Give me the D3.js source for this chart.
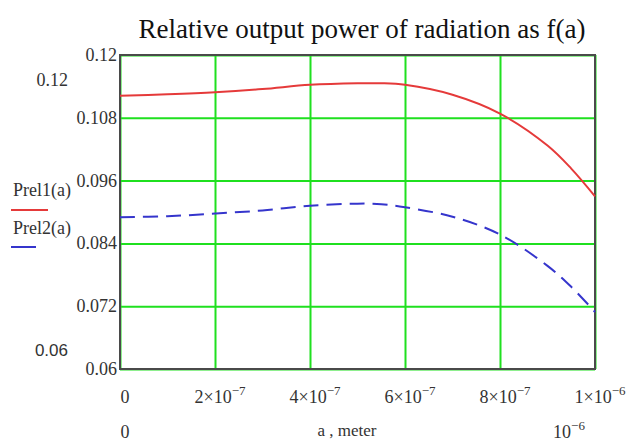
<!DOCTYPE html>
<html>
<head>
<meta charset="utf-8">
<script src="https://cdn.jsdelivr.net/npm/d3@7/dist/d3.min.js"></script>
<style>
  body { margin: 0; background: #fff; }
  svg { display: block; }
  text { font-family: "Liberation Serif", "Times New Roman", serif; fill: #333; }
</style>
</head>
<body>
<script>
// values (a in meters)
var aVals = [0, 1e-7, 2e-7, 3e-7, 4e-7, 5e-7, 5.5e-7, 6e-7, 7e-7, 8e-7, 9e-7, 9.5e-7, 1e-6];
var prel1 = [0.1122, 0.1125, 0.1129, 0.1135, 0.1143, 0.1146, 0.1146, 0.1143, 0.1124, 0.1088, 0.1027, 0.0983, 0.0930];
var prel2 = [0.0890, 0.0892, 0.0897, 0.0903, 0.0912, 0.0916, 0.0915, 0.0909, 0.0891, 0.0857, 0.0797, 0.0757, 0.0709];
var xTicks = [0, 2e-7, 4e-7, 6e-7, 8e-7, 1e-6];
var xTickLabels = [["0", ""], ["2\u00d710", "\u22127"], ["4\u00d710", "\u22127"], ["6\u00d710", "\u22127"], ["8\u00d710", "\u22127"], ["1\u00d710", "\u22126"]];
var yTicks = [0.06, 0.072, 0.084, 0.096, 0.108, 0.12];
var yTickLabels = ["0.06", "0.072", "0.084", "0.096", "0.108", "0.12"];
var seriesNames = ["Prel1(a)", "Prel2(a)"];

var W = 630, H = 443;
// plot box (note: "top" is reserved on window, so use pTop etc.)
var pLeft = 120, pRight = 595, pTop = 55, pBottom = 369;

var svg = d3.select("body").append("svg")
  .attr("width", W)
  .attr("height", H);

var x = d3.scaleLinear().domain([0, 1e-6]).range([pLeft, pRight]);
var y = d3.scaleLinear().domain([0.06, 0.12]).range([pBottom, pTop]);

// title
svg.append("text")
  .attr("x", 362)
  .attr("y", 38)
  .attr("text-anchor", "middle")
  .style("font-size", "27px")
  .style("fill", "#111")
  .text("Relative output power of radiation as f(a)");

// green grid
var gx = svg.append("g")
  .attr("transform", "translate(0," + pBottom + ")")
  .call(d3.axisBottom(x).tickValues(xTicks).tickSize(-(pBottom - pTop)).tickFormat(""));
var gy = svg.append("g")
  .attr("transform", "translate(" + pLeft + ",0)")
  .call(d3.axisLeft(y).tickValues(yTicks).tickSize(-(pRight - pLeft)).tickFormat(""));
[gx, gy].forEach(function(g) {
  g.select(".domain").remove();
  g.selectAll(".tick line").attr("stroke", "#1fe01f").attr("stroke-width", 2);
});

// frame
svg.append("rect")
  .attr("x", pLeft)
  .attr("y", pTop)
  .attr("width", pRight - pLeft)
  .attr("height", pBottom - pTop)
  .attr("fill", "none")
  .attr("stroke", "#4a4a4a")
  .attr("stroke-width", 2);

// y tick labels
svg.selectAll(".ylab")
  .data(yTicks)
  .enter().append("text")
  .attr("class", "ylab")
  .attr("x", pLeft - 3)
  .attr("y", function(d) { return y(d) + 6; })
  .attr("text-anchor", "end")
  .style("font-size", "18px")
  .text(function(d, i) { return yTickLabels[i]; });

// x tick labels with superscripts
var xl = svg.selectAll(".xlab")
  .data(xTicks)
  .enter().append("text")
  .attr("class", "xlab")
  .attr("x", function(d) { return x(d) + 5; })
  .attr("y", 403)
  .attr("text-anchor", "middle")
  .style("font-size", "18px");
xl.append("tspan").text(function(d, i) { return xTickLabels[i][0]; });
xl.append("tspan")
  .attr("dy", -8)
  .style("font-size", "13px")
  .text(function(d, i) { return xTickLabels[i][1]; });

// axis limit labels
svg.append("text").attr("x", 68).attr("y", 86).attr("text-anchor", "end")
  .style("font-size", "18px").text(yTickLabels[5]);
svg.append("text").attr("x", 68).attr("y", 356).attr("text-anchor", "end")
  .style("font-family", "Liberation Sans, Arial, sans-serif")
  .style("font-size", "17px").text(yTickLabels[0]);
svg.append("text").attr("x", 125).attr("y", 438).attr("text-anchor", "middle")
  .style("font-size", "18px").text("0");
svg.append("text").attr("x", 347).attr("y", 436).attr("text-anchor", "middle")
  .style("font-size", "17px").text("a , meter");
var sc = svg.append("text").attr("x", 569).attr("y", 438).attr("text-anchor", "middle")
  .style("font-size", "18px");
sc.append("tspan").text("10");
sc.append("tspan").attr("dy", -8).style("font-size", "13px").text("\u22126");

// curves
var line = d3.line()
  .x(function(d) { return x(d[0]); })
  .y(function(d) { return y(d[1]); })
  .curve(d3.curveCatmullRom.alpha(0.5));

svg.append("path")
  .datum(d3.zip(aVals, prel1))
  .attr("fill", "none")
  .attr("stroke", "#e53a3a")
  .attr("stroke-width", 2)
  .attr("d", line);

svg.append("path")
  .datum(d3.zip(aVals, prel2))
  .attr("fill", "none")
  .attr("stroke", "#3535cc")
  .attr("stroke-width", 2)
  .attr("stroke-dasharray", "15,8")
  .attr("d", line);

// legend
svg.append("text").attr("x", 13).attr("y", 196).style("font-size", "18px").text(seriesNames[0]);
svg.append("line").attr("x1", 11).attr("x2", 48).attr("y1", 210).attr("y2", 210)
  .attr("stroke", "#e53a3a").attr("stroke-width", 2);
svg.append("text").attr("x", 13).attr("y", 234).style("font-size", "18px").text(seriesNames[1]);
svg.append("line").attr("x1", 11).attr("x2", 36).attr("y1", 247).attr("y2", 247)
  .attr("stroke", "#3535cc").attr("stroke-width", 2);
</script>
</body>
</html>
